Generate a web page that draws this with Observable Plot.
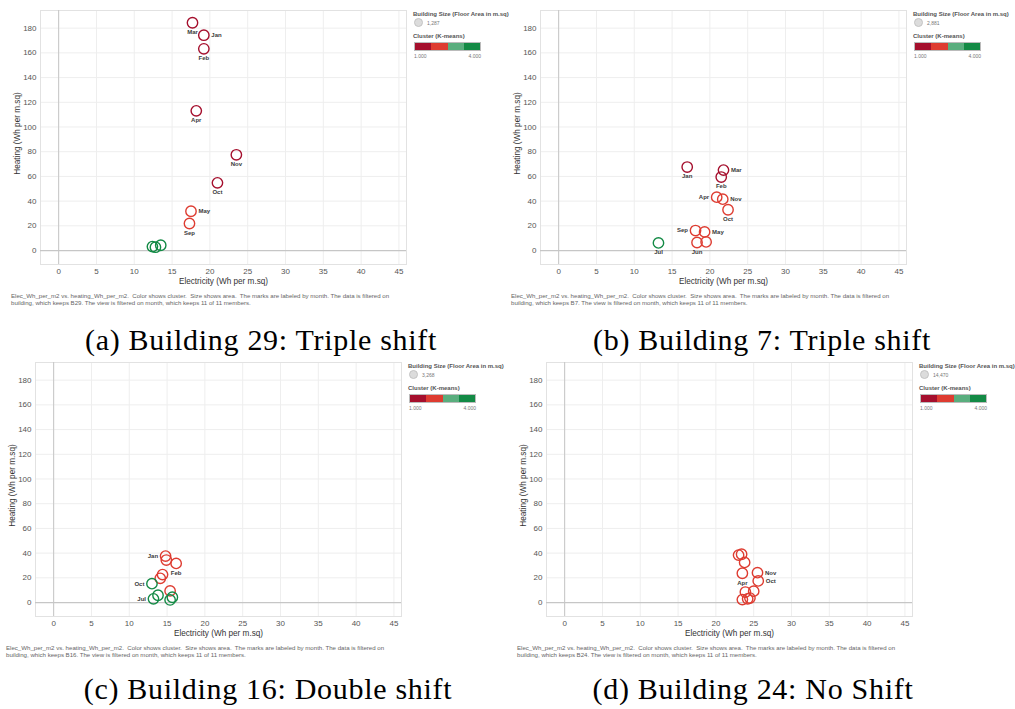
<!DOCTYPE html>
<html><head><meta charset="utf-8">
<script src="https://cdn.jsdelivr.net/npm/d3@7"></script>
<script src="https://cdn.jsdelivr.net/npm/@observablehq/plot@0.6"></script>
<style>
body{margin:0;background:#fff;font-family:"Liberation Sans",Arial,sans-serif;}
#root{position:relative;width:1015px;height:709px;overflow:hidden;background:#fff;}
.panel{position:absolute;width:510px;height:300px;}
.panel svg{position:absolute;left:0;top:0;}
.cap{position:absolute;left:11px;top:292px;font-size:6.1px;line-height:7px;color:#666;white-space:nowrap;}
.lgt{position:absolute;font-size:6px;font-weight:bold;color:#555;white-space:nowrap;line-height:7px;}
.lgv{position:absolute;font-size:5px;color:#777;white-space:nowrap;line-height:6px;}
.lgc{position:absolute;width:9px;height:9px;border-radius:50%;background:#dcdcdc;border:1px solid #c4c4c4;box-sizing:border-box;}
.bar{position:absolute;display:flex;border:1px solid #bbb;box-sizing:border-box;}
.bar div{flex:1;}
.sub{position:absolute;font-family:"Liberation Serif","Times New Roman",serif;font-size:30px;line-height:30px;letter-spacing:0.7px;color:#000;white-space:nowrap;transform:translateX(-50%);}
</style>
</head><body><div id="root"></div>
<script>
// ---- shared scales / ticks ----
const xTicks = [0, 5, 10, 15, 20, 25, 30, 35, 40, 45];
const yTicks = [0, 20, 40, 60, 80, 100, 120, 140, 160, 180];
const clusterIds = [1, 2, 3, 4];
const clusterColors = ["#a50f2d", "#de3c31", "#5aae7e", "#138a45"];
const xTitle = "Electricity (Wh per m.sq)";
const yTitle = "Heating (Wh per m.sq)";

// ---- Building 29 ----
const b29Month   = ["Mar", "Jan", "Feb", "Apr", "Nov", "Oct", "May", "Sep", "Jun", "Jul", "Aug"];
const b29Elec    = [17.7, 19.2, 19.2, 18.2, 23.5, 21.0, 17.5, 17.3, 12.4, 12.8, 13.5];
const b29Heat    = [184.4, 174.3, 163.3, 113.1, 77.5, 54.8, 31.8, 21.9, 3.2, 2.7, 4.3];
const b29Cluster = [1, 1, 1, 1, 1, 1, 2, 2, 4, 4, 4];
const b29Side    = ["b", "r", "b", "b", "b", "b", "r", "b", "", "", ""];

// ---- Building 7 ----
const b7Month   = ["Jan", "Mar", "Feb", "Apr", "Nov", "Oct", "Sep", "May", "Jun", "Aug", "Jul"];
const b7Elec    = [17.0, 21.8, 21.5, 20.9, 21.7, 22.4, 18.1, 19.3, 18.3, 19.5, 13.2];
const b7Heat    = [67.6, 65.1, 59.5, 43.2, 41.6, 33.0, 16.2, 15.1, 6.5, 7.0, 6.2];
const b7Cluster = [1, 1, 1, 2, 2, 2, 2, 2, 2, 2, 4];
const b7Side    = ["b", "r", "b", "l", "r", "b", "l", "r", "b", "", "b"];

// ---- Building 16 ----
const b16Month   = ["Jan", "Mar", "Feb", "Apr", "Nov", "Oct", "May", "Sep", "Jul", "Jun", "Aug"];
const b16Elec    = [14.8, 14.9, 16.2, 14.4, 14.1, 13.0, 15.4, 13.8, 13.2, 15.7, 15.4];
const b16Heat    = [37.6, 34.4, 31.7, 22.6, 19.6, 15.3, 9.4, 5.9, 3.0, 4.3, 2.1];
const b16Cluster = [2, 2, 2, 2, 2, 4, 2, 4, 4, 4, 4];
const b16Side    = ["l", "", "b", "", "", "l", "", "", "l", "", ""];

// ---- Building 24 ----
const b24Month   = ["Jan", "Mar", "Feb", "Apr", "Nov", "Oct", "May", "Sep", "Jun", "Jul", "Aug"];
const b24Elec    = [23.0, 23.4, 23.8, 23.5, 25.5, 25.6, 23.9, 25.0, 23.5, 24.2, 24.5];
const b24Heat    = [38.4, 39.1, 32.5, 23.7, 24.2, 17.5, 8.5, 9.2, 2.4, 3.0, 3.6];
const b24Cluster = [2, 2, 2, 2, 2, 2, 2, 2, 2, 2, 2];
const b24Side    = ["", "", "", "b", "r", "r", "", "", "", "", ""];

// building meta
const buildingIds   = ["B29", "B7", "B16", "B24"];
const buildingSizes = ["1,287", "2,881", "3,268", "14,470"];
const subCaptions   = ["(a) Building 29: Triple shift", "(b) Building 7: Triple shift", "(c) Building 16: Double shift", "(d) Building 24: No Shift"];

const xDomain = [-2.4, 46.0];
const yDomain = [-11.3, 194.3];

function makePlot(month, elec, heat, cluster, side) {
  const data = month.map((m, i) => ({month: m, elec: elec[i], heat: heat[i], cluster: cluster[i], side: side[i]}));
  const t = {x: "elec", y: "heat", text: "month", fontSize: 6, fontWeight: "bold", fill: "#3a3a3a"};
  return Plot.plot({
    width: 410, height: 300,
    marginLeft: 40, marginTop: 10, marginRight: 4, marginBottom: 36,
    style: {fontFamily: "Liberation Sans, Arial, sans-serif", background: "transparent", overflow: "visible"},
    x: {domain: xDomain},
    y: {domain: yDomain},
    color: {domain: clusterIds, range: clusterColors},
    marks: [
      Plot.gridX(xTicks, {stroke: "#eeeeee", strokeOpacity: 1}),
      Plot.gridY(yTicks, {stroke: "#eeeeee", strokeOpacity: 1}),
      Plot.frame({stroke: "#e2e2e2"}),
      Plot.ruleX([0], {stroke: "#c6c6c6"}),
      Plot.ruleY([0], {stroke: "#c6c6c6", strokeWidth: 1.2}),
      Plot.axisX(xTicks, {tickSize: 0, tickPadding: 4, fontSize: 8, color: "#555", label: null}),
      Plot.axisY(yTicks, {tickSize: 0, tickPadding: 4, fontSize: 8, color: "#555", label: null}),
      Plot.text([xTitle], {text: d => d, frameAnchor: "bottom", textAnchor: "middle", dy: 19, fontSize: 8.2, fill: "#333"}),
      Plot.text([yTitle], {text: d => d, frameAnchor: "left", textAnchor: "middle", dx: -23, dy: -4, rotate: -90, fontSize: 8.2, fill: "#333"}),
      Plot.dot(data, {x: "elec", y: "heat", r: 5.2, stroke: "cluster", strokeWidth: 1.4, fill: "none"}),
      Plot.text(data.filter(d => d.side === "b"), {...t, dy: 9.5}),
      Plot.text(data.filter(d => d.side === "r"), {...t, dx: 7.5, textAnchor: "start"}),
      Plot.text(data.filter(d => d.side === "l"), {...t, dx: -7.5, textAnchor: "end"})
    ]
  });
}

const root = document.getElementById("root");
const panels = [
  {ox: 0,   oy: 0,   args: [b29Month, b29Elec, b29Heat, b29Cluster, b29Side], sub: [261, 325]},
  {ox: 500, oy: 0,   args: [b7Month, b7Elec, b7Heat, b7Cluster, b7Side],       sub: [762, 325]},
  {ox: -5,  oy: 352, args: [b16Month, b16Elec, b16Heat, b16Cluster, b16Side],  sub: [268, 674]},
  {ox: 506, oy: 352, args: [b24Month, b24Elec, b24Heat, b24Cluster, b24Side],  sub: [753, 674]}
];

panels.forEach((p, i) => {
  const div = document.createElement("div");
  div.className = "panel";
  div.style.left = p.ox + "px";
  div.style.top = p.oy + "px";
  div.appendChild(makePlot(...p.args));

  const cap = document.createElement("div");
  cap.className = "cap";
  cap.innerHTML = "Elec_Wh_per_m2 vs. heating_Wh_per_m2.&nbsp; Color shows cluster.&nbsp; Size shows area.&nbsp; The marks are labeled by month. The data is filtered on<br>building, which keeps " + buildingIds[i] + ". The view is filtered on month, which keeps 11 of 11 members.";
  div.appendChild(cap);

  const t1 = document.createElement("div");
  t1.className = "lgt"; t1.style.left = "413px"; t1.style.top = "11px";
  t1.textContent = "Building Size (Floor Area in m.sq)";
  div.appendChild(t1);
  const c = document.createElement("div");
  c.className = "lgc"; c.style.left = "414px"; c.style.top = "18px";
  div.appendChild(c);
  const v = document.createElement("div");
  v.className = "lgv"; v.style.left = "427px"; v.style.top = "20px";
  v.textContent = buildingSizes[i];
  div.appendChild(v);
  const t2 = document.createElement("div");
  t2.className = "lgt"; t2.style.left = "413px"; t2.style.top = "33px";
  t2.textContent = "Cluster (K-means)";
  div.appendChild(t2);
  const bar = document.createElement("div");
  bar.className = "bar"; bar.style.left = "414px"; bar.style.top = "41.5px";
  bar.style.width = "67px"; bar.style.height = "9.5px";
  clusterColors.forEach(col => { const s = document.createElement("div"); s.style.background = col; bar.appendChild(s); });
  div.appendChild(bar);
  const l1 = document.createElement("div");
  l1.className = "lgv"; l1.style.left = "414px"; l1.style.top = "52.5px"; l1.textContent = "1.000";
  div.appendChild(l1);
  const l2 = document.createElement("div");
  l2.className = "lgv"; l2.style.left = "481px"; l2.style.top = "52.5px"; l2.style.transform = "translateX(-100%)"; l2.textContent = "4.000";
  div.appendChild(l2);
  root.appendChild(div);

  const sub = document.createElement("div");
  sub.className = "sub";
  sub.style.left = p.sub[0] + "px";
  sub.style.top = p.sub[1] + "px";
  sub.textContent = subCaptions[i];
  root.appendChild(sub);
});
</script>
</body></html>
